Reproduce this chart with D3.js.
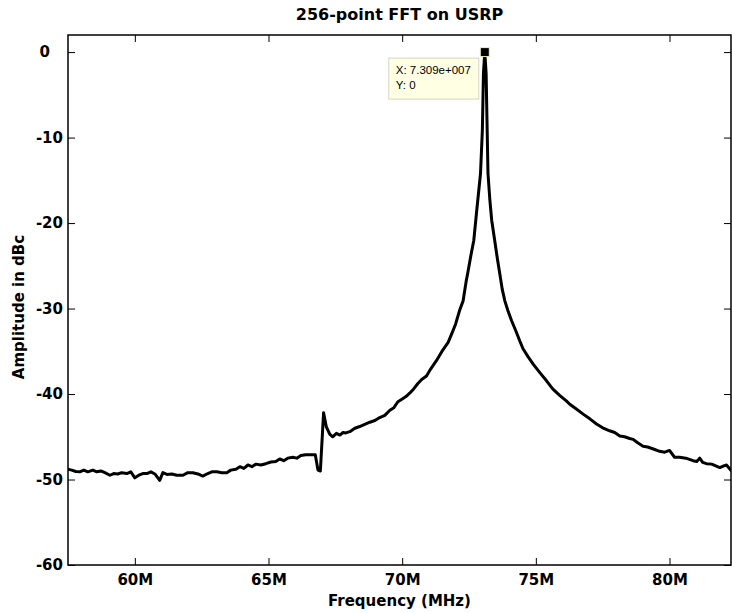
<!DOCTYPE html>
<html>
<head>
<meta charset="utf-8">
<script src="https://cdn.jsdelivr.net/npm/d3@7/dist/d3.min.js"></script>
<style>
  body { margin: 0; background: #fff; }
  text { font-family: "DejaVu Sans", sans-serif; font-weight: bold; fill: #000; }
</style>
</head>
<body>
<svg id="chart" width="732" height="613"></svg>
<script>
// spectrum (MHz / dBc)
const freqMHz = [
  57.49, 57.64, 57.79, 57.94, 58.09, 58.24, 58.43, 58.58, 58.73, 58.88,
  59.07, 59.21, 59.36, 59.51, 59.70, 59.85, 60.00, 60.15, 60.30, 60.45,
  60.60, 60.75, 60.93, 61.05, 61.20, 61.38, 61.57, 61.80, 61.98, 62.17,
  62.36, 62.54, 62.73, 62.88, 63.07, 63.25, 63.44, 63.59, 63.78, 63.93,
  64.08, 64.23, 64.38, 64.53, 64.71, 64.90, 65.09, 65.27, 65.42, 65.57,
  65.72, 65.91, 66.06, 66.21, 66.39, 66.58, 66.75, 66.85, 66.94, 67.06,
  67.16, 67.29, 67.40, 67.54, 67.67, 67.79, 67.89, 68.04, 68.23, 68.41,
  68.60, 68.79, 68.98, 69.16, 69.35, 69.54, 69.69, 69.84, 69.99, 70.14,
  70.28, 70.43, 70.58, 70.73, 70.91, 71.07, 71.28, 71.48, 71.72, 71.86,
  72.00, 72.15, 72.28, 72.40, 72.45, 72.57, 72.68, 72.79, 72.93, 73.00,
  73.04, 73.09, 73.14, 73.21, 73.28, 73.35, 73.46, 73.56, 73.65, 73.74,
  73.84, 73.95, 74.09, 74.25, 74.40, 74.52, 74.70, 74.90, 75.15, 75.40,
  75.63, 75.89, 76.14, 76.27, 76.49, 76.77, 77.02, 77.27, 77.50, 77.76,
  77.95, 78.14, 78.32, 78.51, 78.64, 78.81, 79.01, 79.18, 79.37, 79.63,
  79.82, 80.00, 80.12, 80.19, 80.38, 80.61, 80.88, 81.02, 81.13, 81.24,
  81.38, 81.58, 81.73, 81.88, 82.03, 82.13, 82.21, 82.32
];
const ampDbc = [
  -48.8, -48.9, -49.06, -49.1, -48.9, -49.1, -48.9, -49.1, -49.0, -49.2,
  -49.5, -49.3, -49.35, -49.2, -49.3, -49.1, -49.8, -49.5, -49.3, -49.3,
  -49.1, -49.35, -50.1, -49.2, -49.4, -49.35, -49.5, -49.5, -49.2, -49.2,
  -49.35, -49.6, -49.3, -49.1, -49.1, -49.2, -49.2, -48.9, -48.8, -48.5,
  -48.7, -48.3, -48.5, -48.2, -48.3, -48.15, -47.95, -47.9, -47.6, -47.8,
  -47.5, -47.4, -47.5, -47.2, -47.1, -47.1, -47.1, -48.9, -49.0, -42.2,
  -43.8, -44.7, -45.0, -44.6, -44.8, -44.5, -44.55, -44.4, -44.0, -43.8,
  -43.55, -43.3, -43.1, -42.75, -42.5, -41.9, -41.6, -40.9, -40.6, -40.3,
  -39.9, -39.4, -38.8, -38.3, -37.9, -37.05, -36.1, -35.05, -33.96, -32.9,
  -31.8, -30.2, -29.1, -26.7, -25.9, -23.8, -22.0, -18.5, -14.2, -9.1,
  -2.5, 0, -2.5, -14.2, -17.3, -19.7, -22.0, -24.15, -25.9, -27.7,
  -29.1, -30.2, -31.4, -32.6, -33.8, -34.7, -35.6, -36.5, -37.5, -38.45,
  -39.4, -40.15, -40.8, -41.2, -41.7, -42.35, -42.9, -43.5, -43.95, -44.3,
  -44.5, -44.9, -45.0, -45.2, -45.3, -45.7, -46.1, -46.2, -46.4, -46.7,
  -46.8, -46.6, -47.1, -47.4, -47.4, -47.5, -47.8, -47.9, -47.5, -48.0,
  -48.15, -48.2, -48.4, -48.6, -48.4, -48.3, -48.6, -49.0
];

const xTicks = [60, 65, 70, 75, 80];
const xTickLabels = ["60M", "65M", "70M", "75M", "80M"];
const yTicks = [-60, -50, -40, -30, -20, -10, 0];

// data tip
const tipFreq = 73.09;
const tipAmp = 0;
const tipLines = ["X: 7.309e+007", "Y: 0"];

const svg = d3.select("#chart");

const margin = { top: 35, right: 1, bottom: 48, left: 68 };
const width = 732 - margin.left - margin.right;
const height = 613 - margin.top - margin.bottom;

const x = d3.scaleLinear().domain([57.5, 82.3]).range([0, width]);
const y = d3.scaleLinear().domain([-60, 2]).range([height, 0]);

const g = svg.append("g")
  .attr("transform", "translate(" + margin.left + "," + margin.top + ")");

g.append("clipPath").attr("id", "plot-clip")
  .append("rect").attr("width", width).attr("height", height);

const data = freqMHz.map((f, i) => ({ f: f, a: ampDbc[i] }));

g.append("path")
  .datum(data)
  .attr("clip-path", "url(#plot-clip)")
  .attr("fill", "none")
  .attr("stroke", "#000")
  .attr("stroke-width", 3)
  .attr("stroke-linejoin", "round")
  .attr("d", d3.line().x(d => x(d.f)).y(d => y(d.a)));

// axes, matlab style: ticks inside on all four sides
g.append("g")
  .attr("transform", "translate(0," + height + ")")
  .call(d3.axisBottom(x).tickValues(xTicks)
    .tickFormat((d, i) => xTickLabels[i])
    .tickSizeInner(-7).tickSizeOuter(0).tickPadding(9));

g.append("g")
  .call(d3.axisTop(x).tickValues(xTicks).tickFormat("")
    .tickSizeInner(-7).tickSizeOuter(0));

const yAxis = g.append("g")
  .call(d3.axisLeft(y).tickValues(yTicks).tickFormat(d => String(d))
    .tickSizeInner(-7).tickSizeOuter(0).tickPadding(5));

g.append("g")
  .attr("transform", "translate(" + width + ",0)")
  .call(d3.axisRight(y).tickValues(yTicks).tickFormat("")
    .tickSizeInner(-7).tickSizeOuter(0));

g.selectAll(".domain").remove();
g.selectAll(".tick line").attr("stroke", "#000").attr("stroke-width", 1);
g.selectAll(".tick text")
  .style("font-family", "'DejaVu Sans', sans-serif")
  .style("font-weight", "bold")
  .style("font-size", "15px")
  .attr("fill", "#000");

// the zero label sits left like a padded char label
yAxis.selectAll(".tick text").attr("dx", d => d === 0 ? -13 : 0);

g.append("rect")
  .attr("width", width).attr("height", height)
  .attr("fill", "none").attr("stroke", "#000").attr("stroke-width", 1.5);

// titles
svg.append("text")
  .attr("x", margin.left + width / 2).attr("y", 20)
  .attr("text-anchor", "middle")
  .style("font-size", "16px")
  .text("256-point FFT on USRP");

svg.append("text")
  .attr("x", margin.left + width / 2).attr("y", 606)
  .attr("text-anchor", "middle")
  .style("font-size", "15px")
  .text("Frequency (MHz)");

svg.append("text")
  .attr("transform", "translate(24," + (margin.top + height / 2 + 7) + ") rotate(-90)")
  .attr("text-anchor", "middle")
  .style("font-size", "15px")
  .text("Amplitude in dBc");

// data tip box and marker
const tip = g.append("g");
tip.append("rect")
  .attr("x", x(tipFreq) - 96).attr("y", y(tipAmp) + 6)
  .attr("width", 90).attr("height", 41)
  .attr("fill", "#ffffe4").attr("stroke", "#d6d6c4").attr("stroke-width", 1);

tip.selectAll(".tip-line")
  .data(tipLines)
  .enter()
  .append("text")
  .attr("class", "tip-line")
  .attr("x", x(tipFreq) - 89)
  .attr("y", (d, i) => y(tipAmp) + 22 + i * 15)
  .style("font-family", "'Liberation Sans', Arial, sans-serif")
  .style("font-weight", "normal")
  .style("font-size", "11.5px")
  .attr("fill", "#222")
  .text(d => d);

tip.append("rect")
  .attr("x", x(tipFreq) - 4.5).attr("y", y(tipAmp) - 4.5)
  .attr("width", 9).attr("height", 9)
  .attr("fill", "#000").attr("stroke", "#f4f0c0").attr("stroke-width", 1);
</script>
</body>
</html>
